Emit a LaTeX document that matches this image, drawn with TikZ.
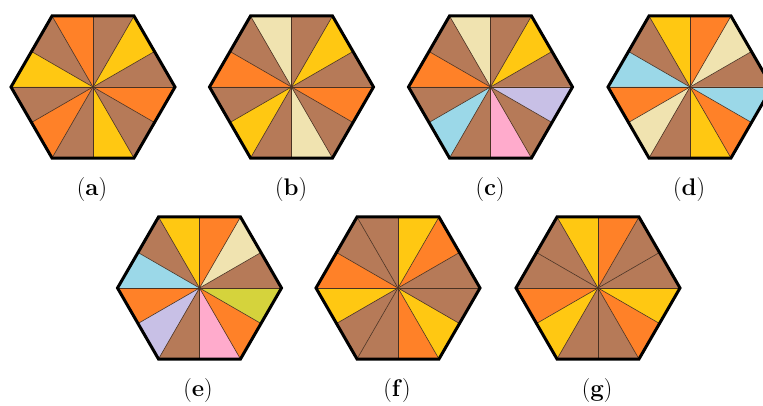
\documentclass[tikz,border=0pt]{standalone}
\usepackage{tikz}
\definecolor{hbrown}{HTML}{B67A58}
\definecolor{horange}{HTML}{FF8128}
\definecolor{hyellow}{HTML}{FFC812}
\definecolor{hcream}{HTML}{F0E3B0}
\definecolor{hblue}{HTML}{9BD8E8}
\definecolor{hlav}{HTML}{C8C0E6}
\definecolor{hpink}{HTML}{FFABCC}
\definecolor{holive}{HTML}{D5D33C}
\definecolor{hspoke}{HTML}{4A3222}
\tikzset{
  spoke/.style={draw=hspoke,line width=0.6pt},
  rim/.style={draw=black,line width=3pt,line join=miter},
  figlabel/.style={font=\fontsize{24}{28}\selectfont,inner sep=0pt},
}
\newcommand{\hexfig}[4]{%
  \coordinate (#4) at (#1,#2);
  \begin{scope}[shift={(#4)}]
    \foreach \c [count=\i from 0] in {#3} {
      \pgfmathsetmacro\ra{mod(\i,2)==0 ? 82 : 71.01}
      \pgfmathsetmacro\rb{mod(\i,2)==0 ? 71.01 : 82}
      \fill[\c] (0,0) -- (\i*30:\ra) -- ({(\i+1)*30}:\rb) -- cycle;
    }
    \foreach \k in {0,...,11} {
      \pgfmathsetmacro\rr{mod(\k,2)==0 ? 82 : 71.01}
      \draw[spoke] (0,0) -- (\k*30:\rr);
    }
    \draw[rim] (0:82) -- (60:82) -- (120:82) -- (180:82) -- (240:82) -- (300:82) -- cycle;
  \end{scope}
}
\begin{document}
\begin{tikzpicture}[x=1pt,y=1pt]
\useasboundingbox (0,0) rectangle (763,405);
\hexfig{93}{318}{hbrown,hyellow,hbrown,horange,hbrown,hyellow,hbrown,horange,hbrown,hyellow,hbrown,horange}{ha}
\hexfig{291.5}{318}{hbrown,hyellow,hbrown,hcream,hbrown,horange,hbrown,hyellow,hbrown,hcream,hbrown,horange}{hb}
\hexfig{490.5}{318}{hbrown,hyellow,hbrown,hcream,hbrown,horange,hbrown,hblue,hbrown,hpink,hbrown,hlav}{hc}
\hexfig{690}{318}{hbrown,hcream,horange,hyellow,hbrown,hblue,horange,hcream,hbrown,hyellow,horange,hblue}{hd}
\hexfig{199.5}{117}{hbrown,hcream,horange,hyellow,hbrown,hblue,horange,hlav,hbrown,hpink,horange,holive}{he}
\hexfig{398}{117}{hbrown,horange,hyellow,hbrown,hbrown,horange,hyellow,hbrown,hbrown,horange,hyellow,hbrown}{hf}
\hexfig{598}{117}{hbrown,hbrown,horange,hyellow,hbrown,hbrown,horange,hyellow,hbrown,hbrown,horange,hyellow}{hg}
\node[figlabel] (la) at (92,215) {(\textbf{a})};
\node[figlabel] (lb) at (291,215) {(\textbf{b})};
\node[figlabel] (lc) at (490,215) {(\textbf{c})};
\node[figlabel] (ld) at (689,215) {(\textbf{d})};
\node[figlabel] (le) at (198,14) {(\textbf{e})};
\node[figlabel] (lf) at (397,14) {(\textbf{f})};
\node[figlabel] (lg) at (597,14) {(\textbf{g})};
\end{tikzpicture}
\end{document}
